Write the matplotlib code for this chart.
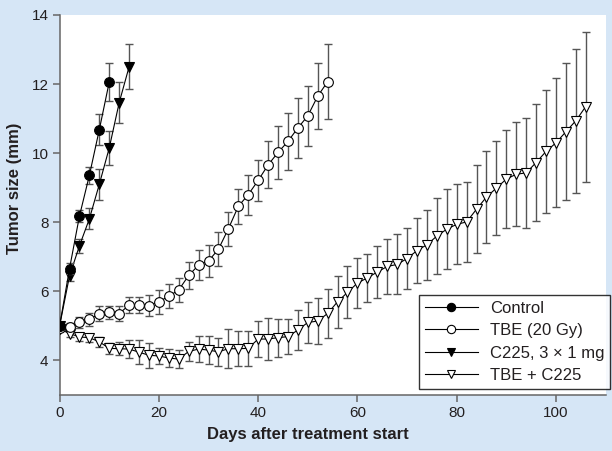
import matplotlib
matplotlib.use("Agg")
import matplotlib.pyplot as plt

# ---------------- data ----------------
control_days = [0, 2, 4, 6, 8, 10]
control_vals = [5.0, 6.66, 8.18, 9.36, 10.68, 12.06]
control_err = [0.05, 0.15, 0.18, 0.25, 0.45, 0.55]

c225_days = [0, 2, 4, 6, 8, 10, 12, 14]
c225_vals = [5.0, 6.45, 7.32, 8.1, 9.1, 10.15, 11.46, 12.5]
c225_err = [0.05, 0.15, 0.2, 0.3, 0.45, 0.5, 0.6, 0.65]

tbe_days = [0, 2, 4, 6, 8, 10, 12, 14, 16, 18, 20, 22, 24, 26,
            28, 30, 32, 34, 36, 38, 40, 42, 44, 46, 48, 50, 52, 54]
tbe_vals = [4.95, 4.98, 5.10, 5.19, 5.35, 5.39, 5.35, 5.61, 5.61, 5.59,
            5.70, 5.86, 6.04, 6.46, 6.76, 6.88, 7.22, 7.81, 8.46, 8.80,
            9.21, 9.66, 10.02, 10.34, 10.73, 11.08, 11.65, 12.07]
tbe_err = [0.05, 0.1, 0.15, 0.18, 0.22, 0.2, 0.22, 0.24, 0.24, 0.3,
           0.35, 0.35, 0.34, 0.4, 0.43, 0.45, 0.5, 0.5, 0.5, 0.58,
           0.6, 0.68, 0.78, 0.83, 0.86, 0.87, 0.95, 1.08]

combo_days = [0, 2, 4, 6, 8, 10, 12, 14, 16, 18, 20, 22, 24, 26,
              28, 30, 32, 34, 36, 38, 40, 42, 44, 46, 48, 50, 52, 54,
              56, 58, 60, 62, 64, 66, 68, 70, 72, 74, 76, 78, 80, 82,
              84, 86, 88, 90, 92, 94, 96, 98, 100, 102, 104, 106]
combo_vals = [4.91, 4.78, 4.68, 4.66, 4.54, 4.35, 4.34, 4.33, 4.24, 4.15,
              4.13, 4.07, 4.04, 4.26, 4.33, 4.30, 4.25, 4.34, 4.34, 4.35,
              4.62, 4.62, 4.66, 4.69, 4.88, 5.10, 5.14, 5.36, 5.70, 5.97,
              6.24, 6.39, 6.56, 6.72, 6.78, 6.95, 7.18, 7.35, 7.60, 7.80,
              7.94, 8.01, 8.38, 8.73, 8.99, 9.25, 9.39, 9.43, 9.73, 10.05,
              10.30, 10.62, 10.94, 11.35]
combo_err = [0.05, 0.1, 0.12, 0.12, 0.15, 0.16, 0.18, 0.25, 0.34, 0.36,
             0.22, 0.25, 0.25, 0.27, 0.38, 0.4, 0.4, 0.57, 0.5, 0.5,
             0.52, 0.6, 0.55, 0.5, 0.58, 0.6, 0.66, 0.7, 0.75, 0.75,
             0.73, 0.7, 0.76, 0.81, 0.87, 0.88, 0.94, 1.01, 1.11, 1.16,
             1.16, 1.16, 1.27, 1.32, 1.37, 1.43, 1.5, 1.6, 1.68, 1.77,
             1.87, 1.98, 2.09, 2.17]

labels = ["Control", "TBE (20 Gy)", "C225, 3 \u00d7 1 mg", "TBE + C225"]
x_ticks = [0, 20, 40, 60, 80, 100]
y_ticks = [4, 6, 8, 10, 12, 14]

# ---------------- style ----------------
plt.rcParams['font.family'] = ['Liberation Sans', 'DejaVu Sans']
bg = '#d6e6f6'
txt = '#231f20'
ecol = '#555555'

fig = plt.figure(figsize=(6.12, 4.51), dpi=100, facecolor=bg)
ax = fig.add_axes([59.6 / 612, 56 / 451, 546 / 612, 380 / 451])
ax.set_facecolor('white')

series = [
    (combo_days, combo_vals, combo_err, 'v', 'white', labels[3], 3),
    (tbe_days, tbe_vals, tbe_err, 'o', 'white', labels[1], 4),
    (c225_days, c225_vals, c225_err, 'v', 'black', labels[2], 5),
    (control_days, control_vals, control_err, 'o', 'black', labels[0], 6),
]
handles = {}
for d, v, e, m, fc, lab, z in series:
    ax.errorbar(d, v, yerr=e, fmt='none', ecolor=ecol, elinewidth=1.0,
                capsize=2.7, capthick=1.0, zorder=z)
    ms = 7.0 if m == 'o' else 7.5
    ln, = ax.plot(d, v, color='black', lw=0.8, marker=m, markersize=ms,
                  markerfacecolor=fc, markeredgecolor='black',
                  markeredgewidth=0.8, label=lab, zorder=z + 0.5)
    handles[lab] = ln

ax.set_xlim(0, 110)
ax.set_ylim(3, 14)
ax.set_xticks(x_ticks)
ax.set_yticks(y_ticks)

for s in ['top', 'right']:
    ax.spines[s].set_visible(False)
for s in ['left', 'bottom']:
    ax.spines[s].set_color('#666666')
    ax.spines[s].set_linewidth(1.1)
ax.tick_params(axis='both', direction='out', length=5, width=1.1,
               color='#666666', labelsize=11, labelcolor=txt, pad=3)

ax.set_xlabel('Days after treatment start', fontsize=12, fontweight='bold',
              color=txt)
ax.set_ylabel('Tumor size (mm)', fontsize=12, fontweight='bold', color=txt)
ax.xaxis.set_label_coords(50 / 110, -0.085)
ax.yaxis.set_label_coords(-0.068, 0.545)

leg = ax.legend([handles[l] for l in labels], labels, loc='lower right',
                bbox_to_anchor=(1.008, 0.016), fontsize=12, frameon=True,
                fancybox=False, edgecolor='black', handlelength=3.2,
                labelspacing=0.45, borderpad=0.35, handletextpad=0.7,
                borderaxespad=0.0)
leg.get_frame().set_linewidth(1.0)
for h in leg.legend_handles:
    h.set_markersize(6.0)
for t in leg.get_texts():
    t.set_color(txt)

fig.savefig('out.png', dpi=100, facecolor=bg)
